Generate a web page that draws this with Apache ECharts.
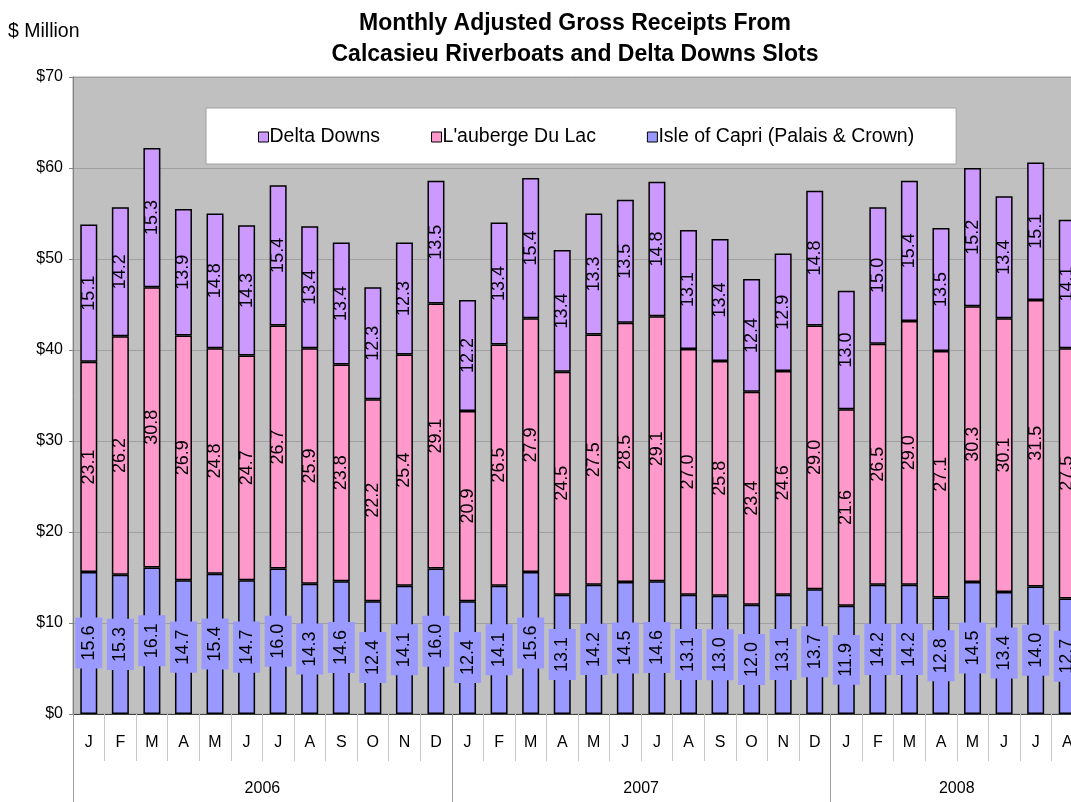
<!DOCTYPE html>
<html>
<head>
<meta charset="utf-8">
<script src="https://cdn.jsdelivr.net/npm/echarts@6/dist/echarts.min.js"></script>
<style>
html,body{margin:0;padding:0;background:#fff;overflow:hidden;}
#chart{width:1071px;height:802px;}
</style>
</head>
<body>
<div id="chart"></div>
<script>
const months = ['J','F','M','A','M','J','J','A','S','O','N','D',
                'J','F','M','A','M','J','J','A','S','O','N','D',
                'J','F','M','A','M','J','J','A'];
const years = ['2006','2007','2008'];
const yearStarts = [0, 12, 24, 32];
const yearCenters = [6, 18, 28];

const isleOfCapri = [15.6,15.3,16.1,14.7,15.4,14.7,16.0,14.3,14.6,12.4,14.1,16.0,
                     12.4,14.1,15.6,13.1,14.2,14.5,14.6,13.1,13.0,12.0,13.1,13.7,
                     11.9,14.2,14.2,12.8,14.5,13.4,14.0,12.7];
const lauberge = [23.1,26.2,30.8,26.9,24.8,24.7,26.7,25.9,23.8,22.2,25.4,29.1,
                  20.9,26.5,27.9,24.5,27.5,28.5,29.1,27.0,25.8,23.4,24.6,29.0,
                  21.6,26.5,29.0,27.1,30.3,30.1,31.5,27.5];
const deltaDowns = [15.1,14.2,15.3,13.9,14.8,14.3,15.4,13.4,13.4,12.3,12.3,13.5,
                    12.2,13.4,15.4,13.4,13.3,13.5,14.8,13.1,13.4,12.4,12.9,14.8,
                    13.0,15.0,15.4,13.5,15.2,13.4,15.1,14.1];

const FONT = 'Arial, "Liberation Sans", sans-serif';
const chart = echarts.init(document.getElementById('chart'), null, {renderer:'canvas'});

const fmt = p => Number(p.value).toFixed(1);
const baseLabel = {
  show: true, position: 'inside', rotate: 90, color: '#000',
  fontFamily: FONT, fontSize: 18, formatter: fmt
};
const barBase = {
  type: 'bar', stack: 'total', xAxisIndex: 0, barWidth: 17
};

chart.setOption({
  animation: false,
  textStyle: {fontFamily: FONT},
  title: [
    {text: 'Monthly Adjusted Gross Receipts From\nCalcasieu Riverboats and Delta Downs Slots',
     left: 575, top: 8, textAlign: 'center', padding: 0,
     textStyle: {fontFamily: FONT, fontSize: 23, fontWeight: 'bold', color: '#000', lineHeight: 31}},
    {text: '$ Million', left: 8, top: 22, padding: 0,
     textStyle: {fontFamily: FONT, fontSize: 19.5, fontWeight: 'normal', color: '#000'}}
  ],
  legend: {
    data: ['Delta Downs', "L'auberge Du Lac", 'Isle of Capri (Palais & Crown)'],
    left: 206, top: 108, padding: [19, 42, 17, 52], itemGap: 51,
    itemWidth: 10, itemHeight: 10, icon: 'rect',
    backgroundColor: '#fff', borderColor: '#a0a0a0', borderWidth: 1,
    textStyle: {fontFamily: FONT, fontSize: 19.5, color: '#000', padding: [0,0,0,-4]},
    itemStyle: {borderColor: '#000', borderWidth: 1}
  },
  grid: {left: 73, width: 1010, top: 77, bottom: 88, show: true,
         outerBoundsMode: 'none', containLabel: false,
         backgroundColor: '#c0c0c0', borderColor: '#a0a0a0', borderWidth: 1},
  xAxis: [
    {type: 'category', data: months, position: 'bottom',
     axisLine: {show: true, lineStyle: {color: '#404040', width: 1}},
     axisTick: {show: true, interval: 0, length: 47, lineStyle: {color: '#c8c8c8'}},
     axisLabel: {interval: 0, margin: 21, color: '#000', fontFamily: FONT, fontSize: 16},
     splitLine: {show: false}},
    {type: 'value', min: 0, max: 32, position: 'bottom',
     axisLine: {show: false},
     axisTick: {show: true, customValues: yearStarts, length: 90, lineStyle: {color: '#a0a0a0'}},
     axisLabel: {customValues: yearCenters, margin: 67, color: '#000', fontFamily: FONT, fontSize: 16,
                 formatter: v => years[yearCenters.indexOf(v)] || ''},
     splitLine: {show: false}}
  ],
  yAxis: {
    type: 'value', min: 0, max: 70, interval: 10,
    axisLine: {show: true, lineStyle: {color: '#808080'}},
    axisTick: {show: true, length: 4, lineStyle: {color: '#808080'}},
    axisLabel: {formatter: '${value}', color: '#000', fontFamily: FONT, fontSize: 16, margin: 10},
    splitLine: {show: true, lineStyle: {color: '#a0a0a0', width: 1}}
  },
  series: [
    Object.assign({}, barBase, {
      name: 'Isle of Capri (Palais & Crown)', data: isleOfCapri,
      itemStyle: {color: '#9999ff', borderColor: '#000', borderWidth: 1.5},
      label: Object.assign({}, baseLabel, {backgroundColor: '#9999ff', padding: [4, 8], lineHeight: 19})
    }),
    Object.assign({}, barBase, {
      name: "L'auberge Du Lac", data: lauberge,
      itemStyle: {color: '#ff99cc', borderColor: '#000', borderWidth: 1.5},
      label: baseLabel
    }),
    Object.assign({}, barBase, {
      name: 'Delta Downs', data: deltaDowns,
      itemStyle: {color: '#cc99ff', borderColor: '#000', borderWidth: 1.5},
      label: baseLabel
    })
  ]
});
</script>
</body>
</html>
